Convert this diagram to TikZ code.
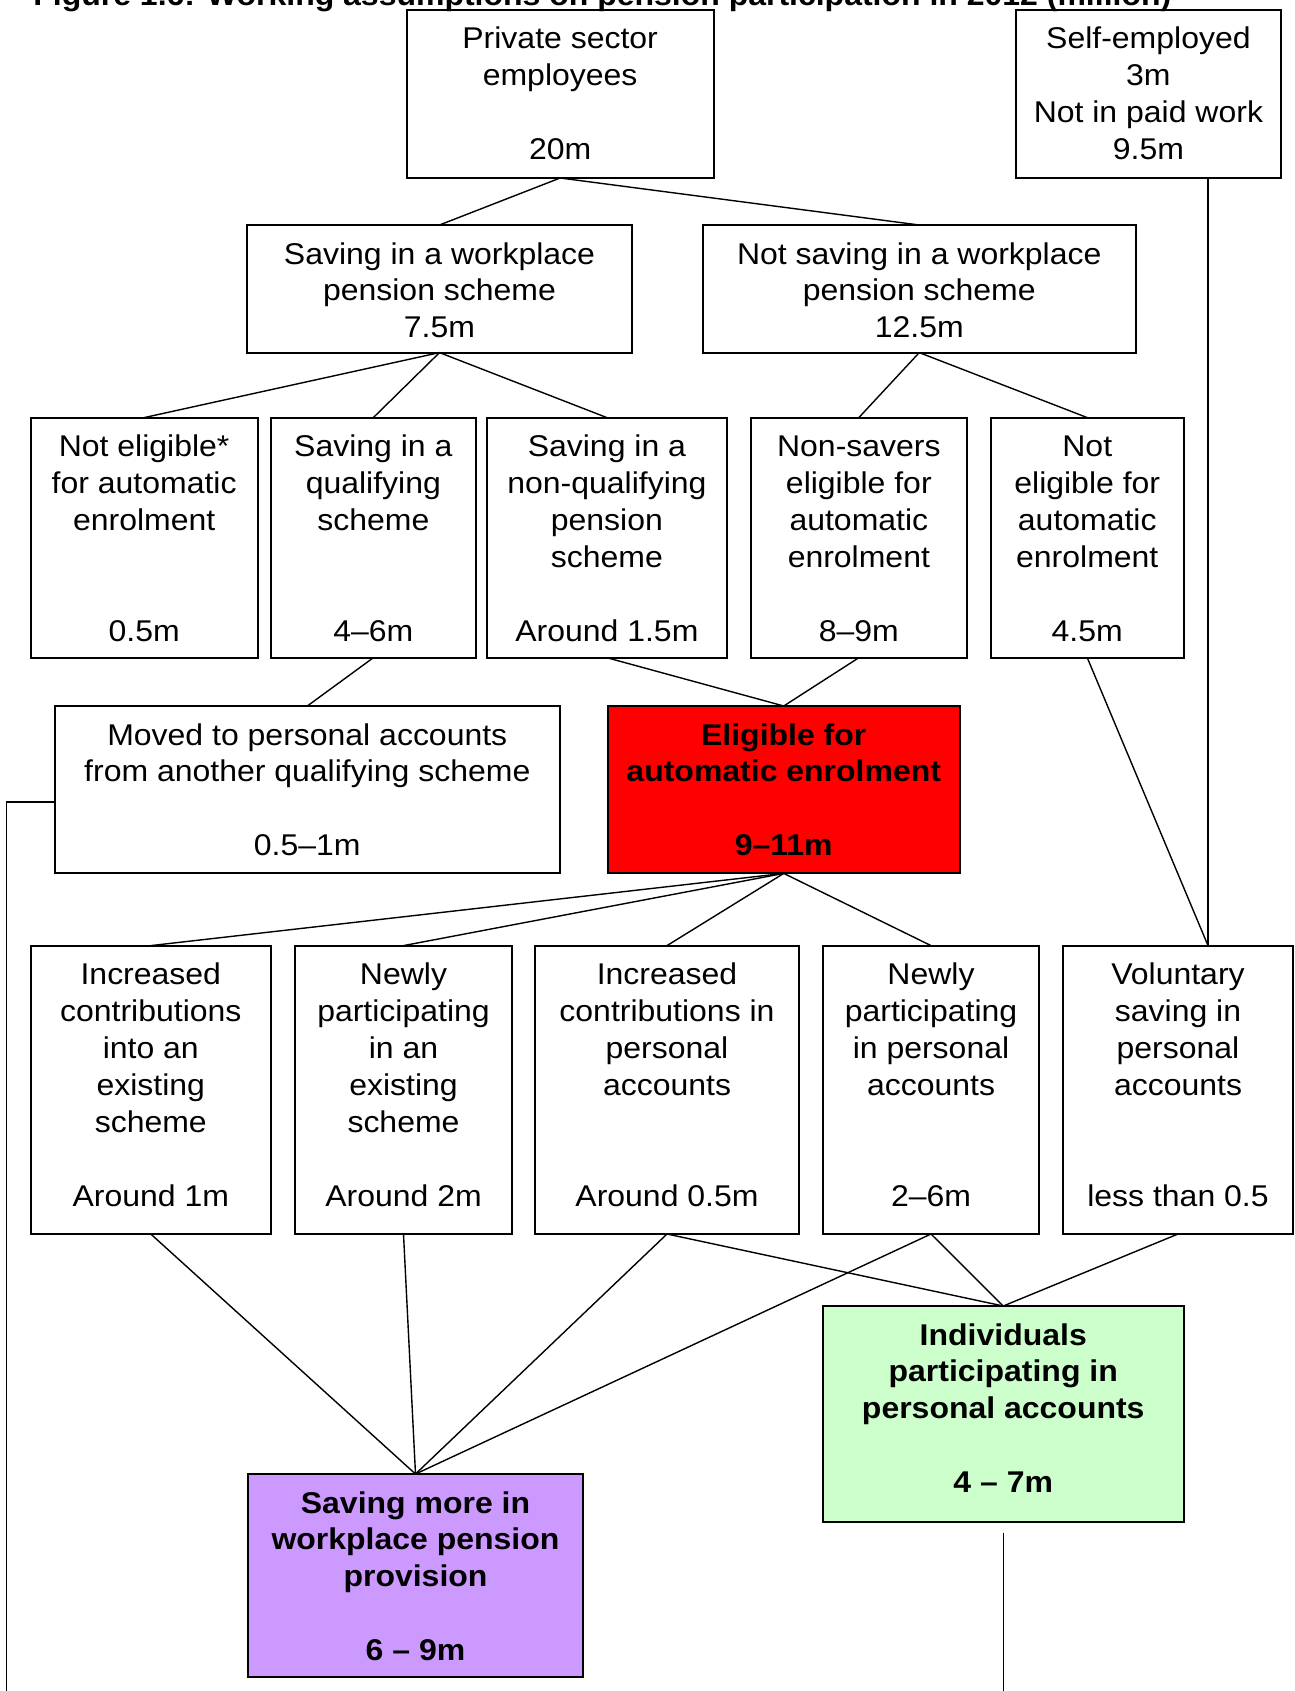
\documentclass[tikz,border=0pt]{standalone}
\usepackage{fontspec}
\setmainfont{Liberation Sans}[FakeStretch=1.066]
\usetikzlibrary{calc}
\definecolor{eligred}{RGB}{255,0,0}
\definecolor{pagreen}{RGB}{204,255,204}
\definecolor{wppurple}{RGB}{204,153,255}
\newcommand\mybox[7]{%
  \pgfmathsetmacro\bw{(#4-#2)*0.5}%
  \pgfmathsetmacro\bh{(#5-#3)*0.5}%
  \node[#6] (#1) at ({(#2+#4)/2},{(#3+#5)/2})
    {\vbox to \bh pt{\hsize=\bw pt\parskip=0pt\lineskiplimit=-20pt\centering\vskip 6.6pt\strut #7\strut\par\vfil}};}
\begin{document}
\begin{tikzpicture}[x=0.5pt,y=-0.5pt,
  boxstyle/.style={draw=black,line width=1pt,inner sep=0pt,outer sep=0pt,
    font=\fontsize{15}{18.45}\selectfont},
  boldbox/.style={boxstyle,font=\fontsize{15}{18.45}\selectfont\bfseries},
  conn/.style={draw=black,line width=0.7pt}]
\useasboundingbox (0,0) rectangle (1295,1691);
\clip (0,0) rectangle (1295,1691);
\node[anchor=base west,inner sep=0pt,font=\fontsize{15}{18}\selectfont\bfseries] (title) at (33,6)
  {Figure 1.6: Working assumptions on pension participation in 2012 (million)};
% row 1
\mybox{priv}{406.5}{9.7}{713.8}{178}{boxstyle}{Private sector\\employees\\[18.45pt]20m}
\mybox{self}{1015.8}{9.7}{1281}{178}{boxstyle}{Self-employed\\3m\\Not in paid work\\9.5m}
% row 2
\mybox{sav}{247}{225}{632}{352.6}{boxstyle}{Saving in a workplace\\pension scheme\\7.5m}
\mybox{nsav}{703}{225}{1135.5}{352.6}{boxstyle}{Not saving in a workplace\\pension scheme\\12.5m}
% row 3
\mybox{r3a}{30.6}{417.6}{257.7}{657.7}{boxstyle}{Not eligible*\\for automatic\\enrolment\\[36.9pt]0.5m}
\mybox{r3b}{271}{417.6}{475.7}{657.7}{boxstyle}{Saving in a\\qualifying\\scheme\\[36.9pt]4--6m}
\mybox{r3c}{487}{417.6}{726.8}{657.7}{boxstyle}{Saving in a\\non-qualifying\\pension\\scheme\\[18.45pt]Around 1.5m}
\mybox{r3d}{750.7}{417.6}{967}{657.7}{boxstyle}{Non-savers\\eligible for\\automatic\\enrolment\\[18.45pt]8--9m}
\mybox{r3e}{991}{417.6}{1183.5}{657.7}{boxstyle}{Not\\eligible for\\automatic\\enrolment\\[18.45pt]4.5m}
% row 4
\mybox{moved}{55}{706}{559.6}{873.4}{boxstyle}{Moved to personal accounts\\from another qualifying scheme\\[18.45pt]0.5--1m}
\mybox{elig}{607.5}{706}{960}{873.4}{boldbox,fill=eligred}{Eligible for\\automatic enrolment\\[18.45pt]9--11m}
% row 5
\mybox{r5a}{30.6}{945.6}{271}{1234}{boxstyle}{Increased\\contributions\\into an\\existing\\scheme\\[18.45pt]Around 1m}
\mybox{r5b}{295}{945.6}{512}{1234}{boxstyle}{Newly\\participating\\in an\\existing\\scheme\\[18.45pt]Around 2m}
\mybox{r5c}{535}{945.6}{799}{1234}{boxstyle}{Increased\\contributions in\\personal\\accounts\\[36.9pt]Around 0.5m}
\mybox{r5d}{823}{945.6}{1039}{1234}{boxstyle}{Newly\\participating\\in personal\\accounts\\[36.9pt]2--6m}
\mybox{r5e}{1063}{945.6}{1293}{1234}{boxstyle}{Voluntary\\saving in\\personal\\accounts\\[36.9pt]less than 0.5}
% results
\mybox{green}{823}{1306}{1183.5}{1521.7}{boldbox,fill=pagreen}{Individuals\\participating in\\personal accounts\\[18.45pt]4 -- 7m}
\mybox{purple}{248}{1474}{583}{1676.5}{boldbox,fill=wppurple}{Saving more in\\workplace pension\\provision\\[18.45pt]6 -- 9m}
% connectors
\draw[conn] (priv.south) -- (sav.north);
\draw[conn] (priv.south) -- (nsav.north);
\draw[conn] (sav.south) -- (r3a.north);
\draw[conn] (sav.south) -- (r3b.north);
\draw[conn] (sav.south) -- (r3c.north);
\draw[conn] (nsav.south) -- (r3d.north);
\draw[conn] (nsav.south) -- (r3e.north);
\draw[conn] (r3b.south) -- (moved.north);
\draw[conn] (r3c.south) -- (elig.north);
\draw[conn] (r3d.south) -- (elig.north);
\draw[conn] (elig.south) -- (r5a.north);
\draw[conn] (elig.south) -- (r5b.north);
\draw[conn] (elig.south) -- (r5c.north);
\draw[conn] (elig.south) -- (r5d.north);
\coordinate (selfout) at ($(self.south)+(59.6,0)$);
\coordinate (volin) at (selfout |- r5e.north);
\draw[conn] (selfout) -- (volin);
\draw[conn] (r3e.south) -- (volin);
\draw[conn] (r5a.south) -- (purple.north);
\draw[conn] (r5b.south) -- (purple.north);
\draw[conn] (r5c.south) -- (purple.north);
\draw[conn] (r5d.south) -- (purple.north);
\draw[conn] (r5c.south) -- (green.north);
\draw[conn] (r5d.south) -- (green.north);
\draw[conn] (r5e.south) -- (green.north);
\coordinate (leftend) at (6.7,1691);
\draw[conn] ([yshift=-6.2pt]moved.west) -| (leftend);
\coordinate (gtail) at ([yshift=-5.7pt]green.south);
\coordinate (gend) at (gtail |- leftend);
\draw[conn] (gtail) -- (gend);
\end{tikzpicture}
\end{document}
